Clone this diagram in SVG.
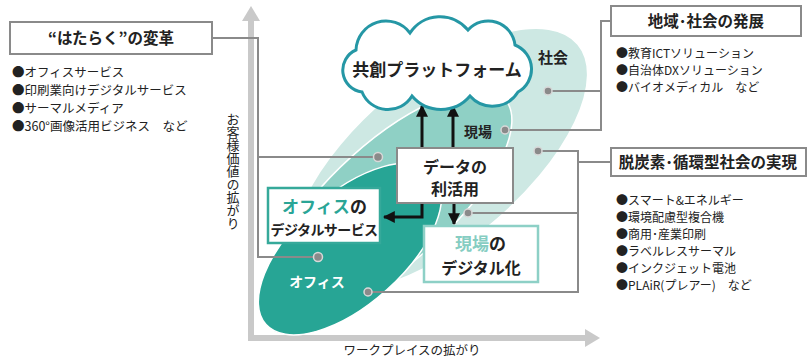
<svg xmlns="http://www.w3.org/2000/svg" width="812" height="358" viewBox="0 0 812 358">
<defs>
<style>
text{font-family:"Noto Sans CJK JP","Noto Sans",sans-serif;fill:#222}
.b{font-weight:700}
.ttl{font-size:15.5px;font-weight:700;text-anchor:middle}
.li{font-size:12.5px}
.li2{font-size:12px}
.box{fill:#fff;stroke:#8a8a8a;stroke-width:2}
.con{fill:none;stroke:#8a8a8a;stroke-width:2}
.dot{fill:#8a8a8a;stroke:#d8d8d8;stroke-width:1.5}
.arr{fill:none;stroke:#111;stroke-width:3}
.axis{fill:#c9c9c9}
</style>
<marker id="ah" viewBox="0 0 10 10" refX="9" refY="5" markerWidth="4" markerHeight="4" orient="auto" markerUnits="strokeWidth">
<path d="M0,0 L10,5 L0,10 z" fill="#111"/>
</marker>
</defs>
<rect width="812" height="358" fill="#fff"/>

<g id="axes">
<rect class="axis" x="248" y="18" width="6" height="323"/>
<polygon class="axis" points="251,6 242,21 260,21"/>
<rect class="axis" x="248" y="335" width="340" height="6"/>
<polygon class="axis" points="600,338 585,329 585,347"/>
<text x="412" y="355" font-size="12.5" text-anchor="middle">ワークプレイスの拡がり</text>
<text x="233" y="113" font-size="13" style="writing-mode:vertical-rl">お客様価値の拡がり</text>
</g>

<g id="ellipses" stroke="#fff" stroke-width="1.5">
<ellipse id="shakai-area" cx="440" cy="160" rx="180" ry="82" transform="rotate(-40 440 160)" fill="#cde8e3"/>
<ellipse id="genba-area" cx="392" cy="201" rx="152" ry="60" transform="rotate(-42 392 201)" fill="#8fd0c5"/>
<ellipse id="office-area" cx="350" cy="249" rx="113" ry="55" transform="rotate(-42 350 249)" fill="#27a595"/>
</g>
<text x="553" y="63" class="b" font-size="15" text-anchor="middle">社会</text>
<text x="478" y="137" class="b" font-size="14" text-anchor="middle">現場</text>
<text x="317" y="287" class="b" font-size="14" text-anchor="middle" style="fill:#fff">オフィス</text>

<g id="connectors">
<path class="con" d="M212,38 H258 V257 H318 M258,157 H378"/>
<path class="con" d="M611,21 H601 V130 H505 M601,91 H548"/>
<path class="con" d="M611,162 H578 M538,151 H578 V292 H368 M578,213 H468"/>
<circle class="dot" cx="318" cy="257" r="4.5"/>
<circle class="dot" cx="378" cy="157" r="4.5"/>
<circle class="dot" cx="505" cy="130" r="4"/>
<circle class="dot" cx="548" cy="91" r="4"/>
<circle class="dot" cx="538" cy="151" r="4"/>
<circle class="dot" cx="468" cy="213" r="4"/>
<circle class="dot" cx="368" cy="292" r="4"/>
<path class="arr" d="M422,148 V106" marker-end="url(#ah)"/>
<path class="arr" d="M453,148 V106" marker-end="url(#ah)"/>
<path class="arr" d="M422,203 V217 H384" marker-end="url(#ah)"/>
<path class="arr" d="M454,203 V224" marker-end="url(#ah)"/>
</g>

<g id="cloud">
<path d="M362,92 A22,22 0 0 1 356,50 A30,30 0 0 1 410,33 A36,36 0 0 1 468,30 A27,27 0 0 1 515,45 A26,26 0 0 1 518,92 A30,30 0 0 1 470,96 A38,38 0 0 1 412,96 A28,28 0 0 1 362,92 Z" fill="#fff" stroke="#2597a5" stroke-width="3"/>
<text x="437" y="76" class="b" font-size="17" text-anchor="middle">共創プラットフォーム</text>
</g>

<g id="hataraku">
<rect class="box" x="10" y="22" width="202" height="32"/>
<text x="111" y="44" class="ttl" font-size="16">“はたらく”の変革</text>
<text x="12" y="77" class="li">●オフィスサービス</text>
<text x="12" y="95" class="li">●印刷業向けデジタルサービス</text>
<text x="12" y="113" class="li">●サーマルメディア</text>
<text x="12" y="131" class="li">●360°画像活用ビジネス　など</text>
</g>

<g id="chiiki">
<rect class="box" x="611" y="6" width="190" height="30"/>
<text x="706" y="27" class="ttl">地域･社会の発展</text>
<text x="616" y="58" class="li2">●教育ICTソリューション</text>
<text x="616" y="75" class="li2">●自治体DXソリューション</text>
<text x="616" y="92" class="li2">●バイオメディカル　など</text>
</g>

<g id="datsutanso">
<rect class="box" x="611" y="148" width="195" height="28"/>
<text x="708" y="168" class="ttl">脱炭素･循環型社会の実現</text>
<text x="616" y="205" class="li2">●スマート&amp;エネルギー</text>
<text x="616" y="222" class="li2">●環境配慮型複合機</text>
<text x="616" y="239" class="li2">●商用･産業印刷</text>
<text x="616" y="256" class="li2">●ラベルレスサーマル</text>
<text x="616" y="273" class="li2">●インクジェット電池</text>
<text x="616" y="290" class="li2">●PLAiR(プレアー)　など</text>
</g>

<g id="data">
<rect class="box" x="397" y="148" width="116" height="55"/>
<text x="455" y="173" class="b" font-size="16" text-anchor="middle">データの</text>
<text x="455" y="195" class="b" font-size="16" text-anchor="middle">利活用</text>
</g>

<g id="office-digital">
<rect x="268" y="188" width="112" height="55" fill="#fff" stroke="#35a99a" stroke-width="2.5"/>
<text x="282" y="213" class="b" font-size="17" style="fill:#2aa596">オフィス</text>
<text x="350" y="213" class="b" font-size="17">の</text>
<text x="324" y="235" class="b" font-size="14" text-anchor="middle" letter-spacing="-0.6">デジタルサービス</text>
</g>

<g id="genba-digital">
<rect x="424" y="226" width="114" height="56" fill="#fff" stroke="#8dd0c6" stroke-width="2.5"/>
<text x="455" y="250" class="b" font-size="17" style="fill:#86cdc2">現場</text>
<text x="489" y="250" class="b" font-size="17">の</text>
<text x="481" y="274" class="b" font-size="16" text-anchor="middle">デジタル化</text>
</g>
</svg>
